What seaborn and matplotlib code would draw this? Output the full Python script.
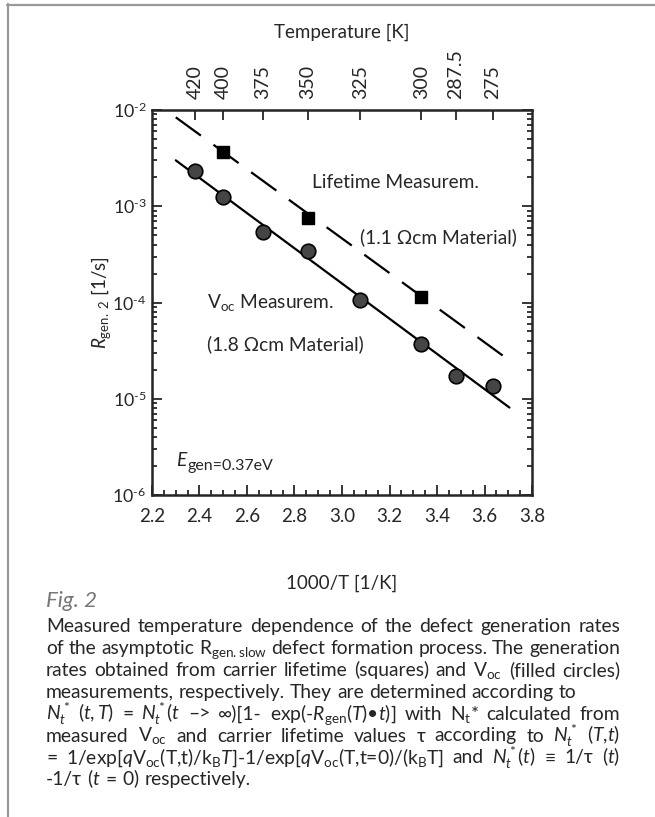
import numpy as np
import matplotlib
matplotlib.use('Agg')
import matplotlib.pyplot as plt
import matplotlib.ticker as mticker
from matplotlib.lines import Line2D
import seaborn as sns

# values
temps_top = [420, 400, 375, 350, 325, 300, 287.5, 275]
voc_x = [1000 / t for t in temps_top]
voc_rate = [2.3e-3, 1.26e-3, 5.4e-4, 3.4e-4, 1.07e-4, 3.7e-5, 1.74e-5, 1.35e-5]
life_x = [1000 / 400, 1000 / 350, 1000 / 300]
life_rate = [3.7e-3, 7.6e-4, 1.15e-4]
fit_x = [2.30, 3.705]
voc_fit = [3.0e-3, 8.1e-6]
life_fit = [8.4e-3, 2.5e-5]

caption = [
    ("Measured temperature dependence of the defect generation rates", True),
    ("of the asymptotic R$_{\\mathrm{gen.slow}}$ defect formation process. The generation", True),
    ("rates obtained from carrier lifetime (squares) and V$_{\\mathrm{oc}}$ (filled circles)", True),
    ("measurements, respectively. They are determined according to", False),
    ("$N_t^*$ $(t,T)$ = $N_t^*$($t$ \u2013> \u221e)[1- exp(-$R_{\\mathrm{gen}}$($T$)\u2022$t$)] with N$_{\\mathrm{t}}$* calculated from", True),
    ("measured V$_{\\mathrm{oc}}$ and carrier lifetime values \u03c4 according to $N_t^*$ ($T$,$t$)", True),
    ("= 1/exp[$q$V$_{\\mathrm{oc}}$(T,t)/k$_{\\mathrm{B}}T$]-1/exp[$q$V$_{\\mathrm{oc}}$(T,t=0)/(k$_{\\mathrm{B}}$T] and $N_t^*$($t$) \u2261 1/\u03c4 ($t$)", True),
    ("-1/\u03c4 ($t$ = $0$) respectively.", False),
]

sns.set_style('ticks')
FONT = 'Lato'
plt.rcParams['font.family'] = [FONT, 'DejaVu Sans']
plt.rcParams['mathtext.fontset'] = 'custom'
plt.rcParams['mathtext.rm'] = FONT
plt.rcParams['mathtext.it'] = FONT + ':italic'
plt.rcParams['mathtext.bf'] = FONT + ':bold'

W, H = 655, 817
fig = plt.figure(figsize=(W / 100, H / 100), dpi=100)


def fx(x):
    return x / W


def fy(y):
    return 1 - y / H


ax = fig.add_axes([fx(152), fy(495), fx(532) - fx(152), fy(110) - fy(495)])

sns.lineplot(x=fit_x, y=voc_fit, ax=ax, color='black', lw=1.6)
sns.lineplot(x=fit_x, y=life_fit, ax=ax, color='black', lw=1.6, dashes=False)
ax.lines[-1].set_dashes([14, 7])
sns.scatterplot(x=voc_x, y=voc_rate, ax=ax, marker='o', s=110, color='#454545',
                edgecolor='black', linewidth=1.2, zorder=3)
sns.scatterplot(x=life_x, y=life_rate, ax=ax, marker='s', s=72, color='black',
                edgecolor='black', linewidth=1, zorder=3)

ax.set_yscale('log')
ax.set_xlim(2.2, 3.8)
ax.set_ylim(1e-6, 1e-2)
ax.xaxis.set_major_locator(mticker.MultipleLocator(0.2))
ax.xaxis.set_minor_locator(mticker.MultipleLocator(0.05))
ax.xaxis.set_major_formatter(mticker.FormatStrFormatter('%.1f'))
ax.yaxis.set_major_locator(mticker.LogLocator(base=10, numticks=10))
ax.yaxis.set_minor_locator(mticker.LogLocator(base=10, subs=np.arange(2, 10), numticks=10))
ax.yaxis.set_major_formatter(mticker.FuncFormatter(
    lambda v, p: '10$^{\\text{-%d}}$' % abs(int(round(np.log10(v))))))
ax.yaxis.set_minor_formatter(mticker.NullFormatter())
ax.tick_params(which='both', direction='in', width=1.3, top=False, right=True)
ax.tick_params(axis='x', pad=9, labelsize=13.5)
ax.tick_params(axis='y', pad=4, labelsize=12.8)
ax.tick_params(which='major', length=7)
ax.tick_params(which='minor', length=3.5)
for s in ax.spines.values():
    s.set_linewidth(1.8)

ax.set_xlabel('1000/T [1/K]', fontsize=13.5, labelpad=36)
ax.set_ylabel('$R_{\\mathrm{gen.\\ 2}}$ [1/s]', fontsize=13.5)
ax.yaxis.set_label_coords(-0.102, 0.5)

top = ax.twiny()
top.set_xlim(ax.get_xlim())
top.set_xticks(voc_x)
top.set_xticklabels([('%g' % t) for t in temps_top], rotation=90, fontsize=14)
top.tick_params(direction='in', length=7, width=1.3, pad=8)
top.xaxis.set_minor_locator(mticker.NullLocator())
top.set_xlabel('Temperature [K]', fontsize=13.5, labelpad=8)

fs_ann = 13.8
fig.text(fx(312), fy(188), 'Lifetime Measurem.', fontsize=fs_ann, va='baseline')
fig.text(fx(360), fy(243), '(1.1 \u03a9cm Material)', fontsize=fs_ann, va='baseline')
fig.text(fx(207), fy(308), 'V$_{\\mathrm{oc}}$ Measurem.', fontsize=fs_ann, va='baseline')
fig.text(fx(207), fy(350), '(1.8 \u03a9cm Material)', fontsize=fs_ann, va='baseline')
fig.text(fx(176), fy(466), 'E', fontsize=fs_ann, style='italic', va='baseline')
fig.text(fx(187), fy(470), 'gen=0.37eV', fontsize=11.5, va='baseline')

# page frame
fig.add_artist(Line2D([fx(7), 1], [fy(4.5), fy(4.5)], color='#999999', lw=1.6))
fig.add_artist(Line2D([fx(7.5), fx(7.5)], [fy(4), 0], color='#999999', lw=1.6))

fig.text(fx(46), fy(607), 'Fig. 2', fontsize=16, style='italic', color='#777777',
         va='baseline')

renderer = fig.canvas.get_renderer()
x0, x1 = 46, 620
fs_cap = 13.9
space = 0.26 * fs_cap * 100 / 72
base = 632
for i, (line, justify) in enumerate(caption):
    words = line.split(' ')
    texts = [fig.text(0, fy(base + i * 21.9), w, fontsize=fs_cap, va='baseline')
             for w in words]
    widths = [t.get_window_extent(renderer).width for t in texts]
    gap = space
    if justify and len(words) > 1:
        gap = (x1 - x0 - sum(widths)) / (len(words) - 1)
    x = x0
    for t, w in zip(texts, widths):
        t.set_x(fx(x))
        x += w + gap

fig.savefig('out.png', dpi=100)
